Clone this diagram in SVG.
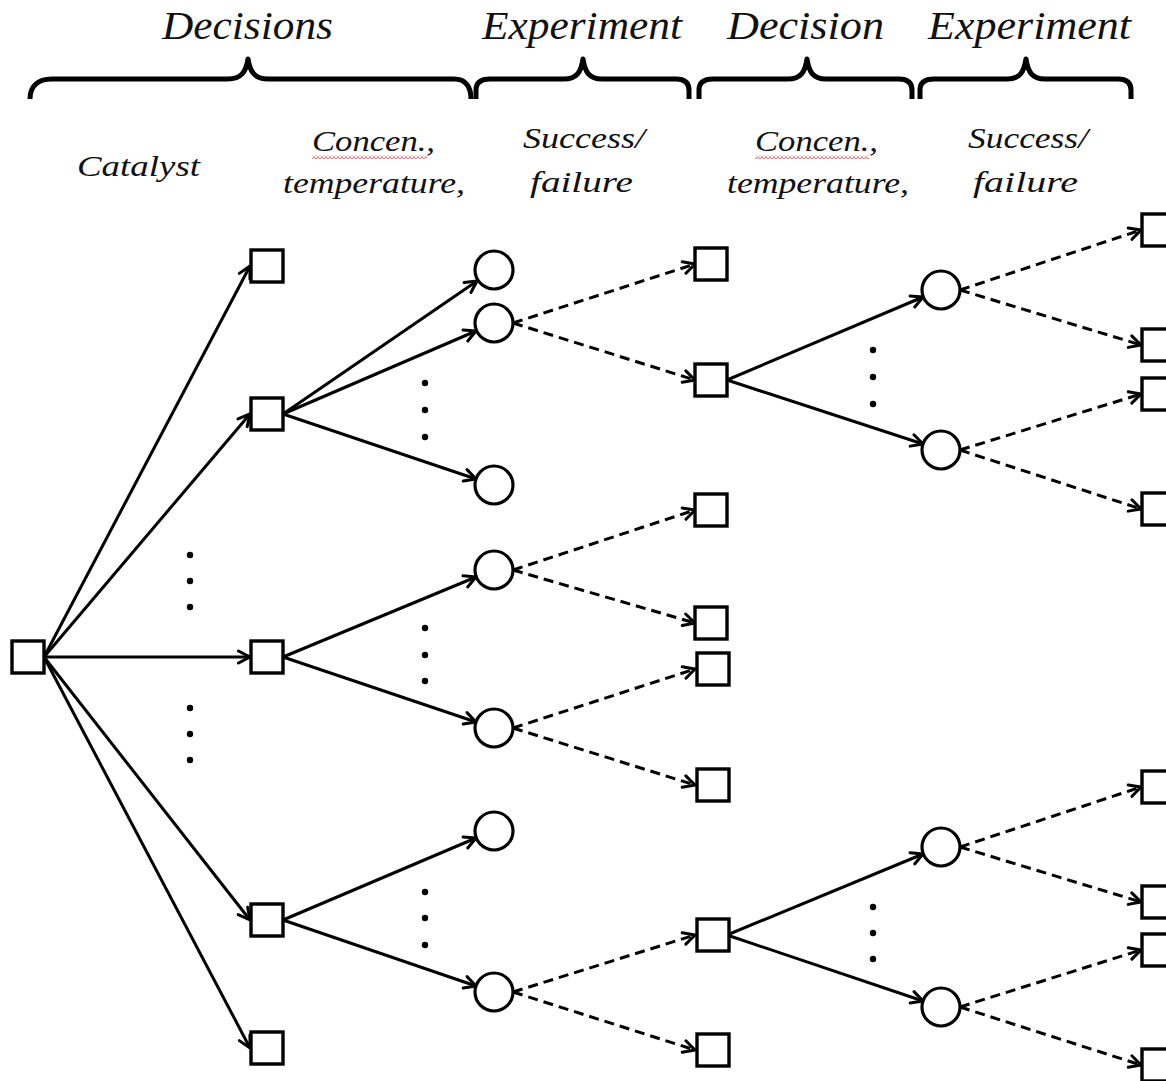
<svg xmlns="http://www.w3.org/2000/svg" width="1166" height="1081" viewBox="0 0 1166 1081">
<style>
.hdr{font-family:"Liberation Serif","Times New Roman",serif;font-style:italic;font-size:41px;fill:#111}
.lbl{font-family:"Liberation Serif","Times New Roman",serif;font-style:italic;font-size:30px;fill:#111}
.brace{fill:none;stroke:#000;stroke-width:5;stroke-linecap:butt;stroke-linejoin:round}
.sq{fill:#fff;stroke:#000;stroke-width:3.4}
.ci{fill:#fff;stroke:#000;stroke-width:3.2}
.solid{fill:none;stroke:#000;stroke-width:3;marker-end:url(#arr)}
.dash{fill:none;stroke:#000;stroke-width:3;stroke-dasharray:10 6;marker-end:url(#arr)}
.dot{fill:#000}
</style>
<defs>
<marker id="arr" viewBox="0 0 16 16" refX="14" refY="8" markerWidth="16" markerHeight="16" markerUnits="userSpaceOnUse" orient="auto">
<path d="M2.5,2 L14,8 L2.5,14" fill="none" stroke="#000" stroke-width="3" stroke-linecap="round" stroke-linejoin="round"/>
</marker>
<pattern id="wavy" x="0" y="0" width="4" height="4" patternUnits="userSpaceOnUse">
<path d="M0,3.5 L2,0.5 L4,3.5" fill="none" stroke="#e86a6a" stroke-width="1"/>
</pattern>
</defs>

<g id="headers">
<text class="hdr" x="162" y="39" textLength="171" lengthAdjust="spacingAndGlyphs">Decisions</text>
<text class="hdr" x="482" y="39" textLength="200" lengthAdjust="spacingAndGlyphs">Experiment</text>
<text class="hdr" x="727" y="39" textLength="157" lengthAdjust="spacingAndGlyphs">Decision</text>
<text class="hdr" x="928" y="39" textLength="203" lengthAdjust="spacingAndGlyphs">Experiment</text>
</g>

<g id="braces">
<path class="brace" d="M30,99 C30,87 37,79 52,79 L228,79 C241,79 246,72 248,59 C250,72 255,79 268,79 L454,79 C466,79 471,87 471,99"/>
<path class="brace" d="M476,99 L476,90 C476,83 480,79 490,79 L564,79 C577,79 581,72 583,59 C585,72 589,79 602,79 L676,79 C685,79 689,83 689,90 L689,99"/>
<path class="brace" d="M699,99 L699,90 C699,83 703,79 713,79 L788,79 C801,79 805,72 807,59 C809,72 813,79 826,79 L899,79 C908,79 912,83 912,90 L912,99"/>
<path class="brace" d="M920,99 L920,90 C920,83 924,79 934,79 L1007,79 C1020,79 1024,72 1026,59 C1028,72 1032,79 1045,79 L1118,79 C1127,79 1131,83 1131,90 L1131,99"/>
</g>

<g id="labels">
<text class="lbl" x="77" y="176" textLength="123" lengthAdjust="spacingAndGlyphs">Catalyst</text>
<text class="lbl" x="312" y="151" textLength="123" lengthAdjust="spacingAndGlyphs">Concen.,</text>
<rect x="312" y="155" width="115" height="4" fill="url(#wavy)"/>
<text class="lbl" x="283" y="193" textLength="182" lengthAdjust="spacingAndGlyphs">temperature,</text>
<text class="lbl" x="523" y="148" textLength="122" lengthAdjust="spacingAndGlyphs">Success/</text>
<text class="lbl" x="530" y="192" textLength="103" lengthAdjust="spacingAndGlyphs">failure</text>
<text class="lbl" x="755" y="151" textLength="123" lengthAdjust="spacingAndGlyphs">Concen.,</text>
<rect x="755" y="155" width="114" height="4" fill="url(#wavy)"/>
<text class="lbl" x="727" y="193" textLength="182" lengthAdjust="spacingAndGlyphs">temperature,</text>
<text class="lbl" x="968" y="148" textLength="120" lengthAdjust="spacingAndGlyphs">Success/</text>
<text class="lbl" x="973" y="192" textLength="105" lengthAdjust="spacingAndGlyphs">failure</text>
</g>

<g id="connectors">
<path class="solid" d="M44,657 L250,266"/>
<path class="solid" d="M44,657 L250,414"/>
<path class="solid" d="M44,657 L250,657"/>
<path class="solid" d="M44,657 L250,920"/>
<path class="solid" d="M44,657 L250,1048"/>
<path class="solid" d="M283,414 L477,281"/>
<path class="solid" d="M283,414 L476,331"/>
<path class="solid" d="M283,414 L476,479"/>
<path class="solid" d="M283,657 L476,577"/>
<path class="solid" d="M283,657 L476,722"/>
<path class="solid" d="M283,920 L476,838"/>
<path class="solid" d="M283,920 L476,986"/>
<path class="dash" d="M513,323 L695,264"/>
<path class="dash" d="M513,323 L695,380"/>
<path class="dash" d="M513,570 L695,510"/>
<path class="dash" d="M513,570 L695,623"/>
<path class="dash" d="M513,728 L695,669"/>
<path class="dash" d="M513,728 L695,785"/>
<path class="dash" d="M513,992 L695,935"/>
<path class="dash" d="M513,992 L695,1050"/>
<path class="solid" d="M727,380 L923,297"/>
<path class="solid" d="M727,380 L923,444"/>
<path class="solid" d="M727,935 L923,854"/>
<path class="solid" d="M727,935 L923,1001"/>
<path class="dash" d="M960,290 L1141,230"/>
<path class="dash" d="M960,290 L1141,345"/>
<path class="dash" d="M960,450 L1141,394"/>
<path class="dash" d="M960,450 L1141,509"/>
<path class="dash" d="M960,847 L1141,787"/>
<path class="dash" d="M960,847 L1141,902"/>
<path class="dash" d="M960,1007 L1141,950"/>
<path class="dash" d="M960,1007 L1141,1065"/>
</g>

<g id="ellipses">
<circle class="dot" cx="190" cy="555" r="3.2"/><circle class="dot" cx="190" cy="581" r="3.2"/><circle class="dot" cx="190" cy="607" r="3.2"/>
<circle class="dot" cx="190" cy="708" r="3.2"/><circle class="dot" cx="190" cy="734" r="3.2"/><circle class="dot" cx="190" cy="760" r="3.2"/>
<circle class="dot" cx="425" cy="383" r="3.2"/><circle class="dot" cx="425" cy="410" r="3.2"/><circle class="dot" cx="425" cy="437" r="3.2"/>
<circle class="dot" cx="425" cy="628" r="3.2"/><circle class="dot" cx="425" cy="655" r="3.2"/><circle class="dot" cx="425" cy="681" r="3.2"/>
<circle class="dot" cx="425" cy="892" r="3.2"/><circle class="dot" cx="425" cy="918" r="3.2"/><circle class="dot" cx="425" cy="945" r="3.2"/>
<circle class="dot" cx="873" cy="350" r="3.2"/><circle class="dot" cx="873" cy="377" r="3.2"/><circle class="dot" cx="873" cy="404" r="3.2"/>
<circle class="dot" cx="873" cy="907" r="3.2"/><circle class="dot" cx="873" cy="933" r="3.2"/><circle class="dot" cx="873" cy="959" r="3.2"/>
</g>

<g id="n0"><rect class="sq" x="12" y="641" width="32" height="32"/></g>
<g id="d1"><rect class="sq" x="251" y="250" width="32" height="32"/></g>
<g id="d2"><rect class="sq" x="251" y="398" width="32" height="32"/></g>
<g id="d3"><rect class="sq" x="251" y="641" width="32" height="32"/></g>
<g id="d4"><rect class="sq" x="251" y="904" width="32" height="32"/></g>
<g id="d5"><rect class="sq" x="251" y="1032" width="32" height="32"/></g>
<g id="c1"><circle class="ci" cx="494" cy="270" r="19"/></g>
<g id="c2"><circle class="ci" cx="494" cy="323" r="19"/></g>
<g id="c3"><circle class="ci" cx="494" cy="485" r="19"/></g>
<g id="c4"><circle class="ci" cx="494" cy="570" r="19"/></g>
<g id="c5"><circle class="ci" cx="494" cy="728" r="19"/></g>
<g id="c6"><circle class="ci" cx="494" cy="831" r="19"/></g>
<g id="c7"><circle class="ci" cx="494" cy="992" r="19"/></g>
<g id="e1"><rect class="sq" x="695" y="248" width="32" height="32"/></g>
<g id="e2"><rect class="sq" x="695" y="364" width="32" height="32"/></g>
<g id="e3"><rect class="sq" x="695" y="494" width="32" height="32"/></g>
<g id="e4"><rect class="sq" x="695" y="607" width="32" height="32"/></g>
<g id="e5"><rect class="sq" x="697" y="653" width="32" height="32"/></g>
<g id="e6"><rect class="sq" x="697" y="769" width="32" height="32"/></g>
<g id="e7"><rect class="sq" x="697" y="919" width="32" height="32"/></g>
<g id="e8"><rect class="sq" x="697" y="1034" width="32" height="32"/></g>
<g id="f1"><circle class="ci" cx="941" cy="290" r="19"/></g>
<g id="f2"><circle class="ci" cx="941" cy="450" r="19"/></g>
<g id="f3"><circle class="ci" cx="941" cy="847" r="19"/></g>
<g id="f4"><circle class="ci" cx="941" cy="1007" r="19"/></g>
<g id="g1"><rect class="sq" x="1142" y="214" width="32" height="32"/></g>
<g id="g2"><rect class="sq" x="1142" y="329" width="32" height="32"/></g>
<g id="g3"><rect class="sq" x="1142" y="378" width="32" height="32"/></g>
<g id="g4"><rect class="sq" x="1142" y="493" width="32" height="32"/></g>
<g id="g5"><rect class="sq" x="1142" y="771" width="32" height="32"/></g>
<g id="g6"><rect class="sq" x="1142" y="886" width="32" height="32"/></g>
<g id="g7"><rect class="sq" x="1142" y="934" width="32" height="32"/></g>
<g id="g8"><rect class="sq" x="1142" y="1049" width="32" height="32"/></g>
</svg>
